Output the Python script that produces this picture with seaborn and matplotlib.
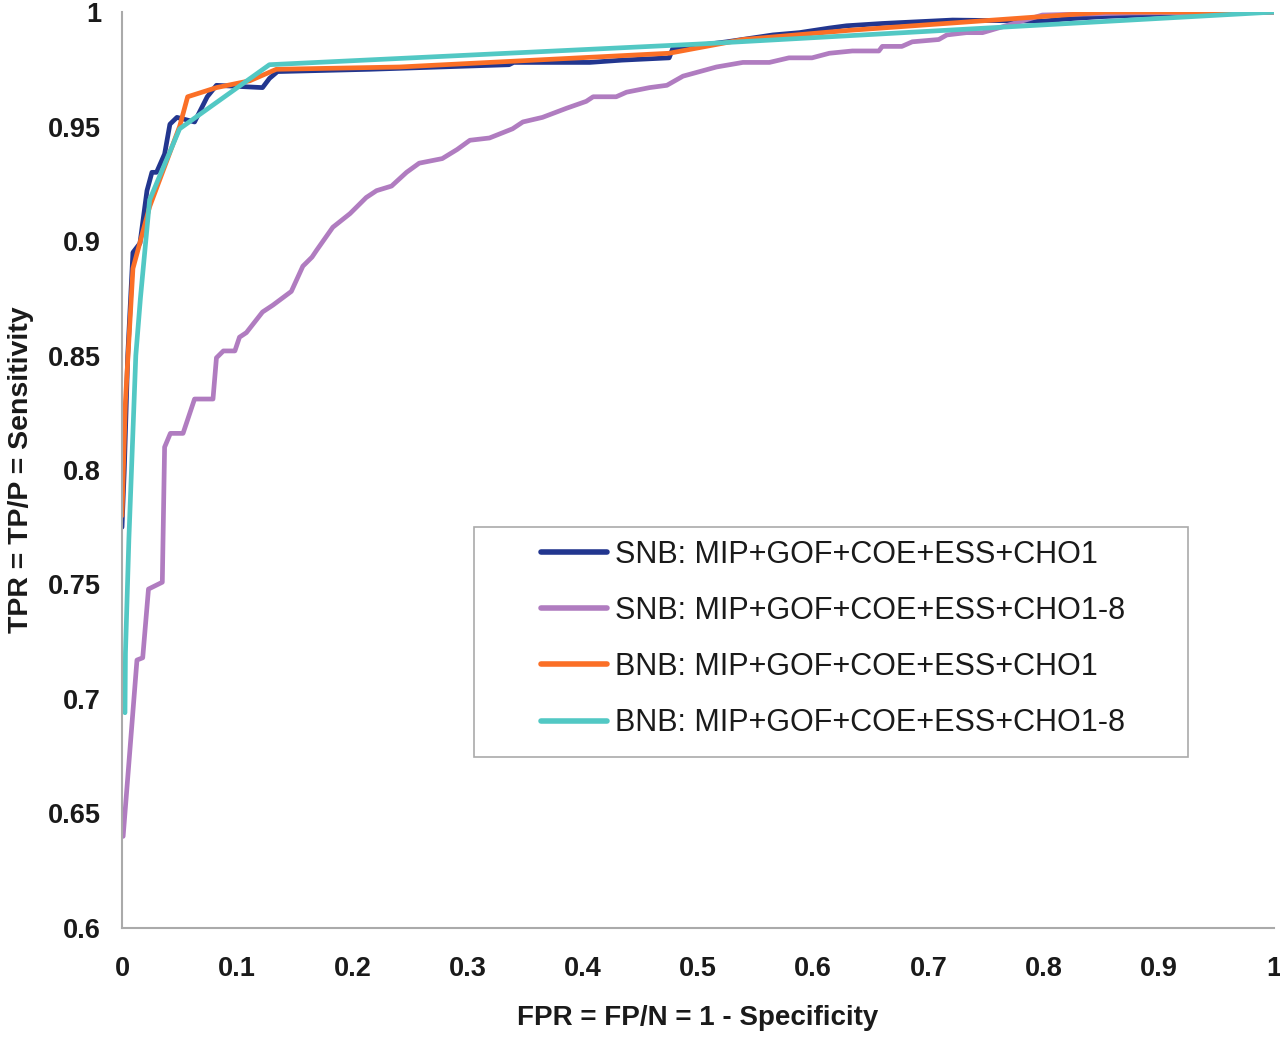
import numpy as np
import pandas as pd
import matplotlib
matplotlib.use("Agg")
import matplotlib.pyplot as plt
from matplotlib.patches import Rectangle
import seaborn as sns

# ROC curve points
snb_cho1_fpr = [0, 0.002, 0.005, 0.0095, 0.0156, 0.0217, 0.026, 0.030, 0.037, 0.0416, 0.0477,
                0.063, 0.074, 0.082, 0.122, 0.128, 0.135, 0.215, 0.336, 0.340, 0.406, 0.434,
                0.475, 0.478, 0.525, 0.565, 0.588, 0.614, 0.629, 0.66, 0.721, 0.799, 0.82,
                0.851, 0.886, 0.918, 1.0]
snb_cho1_tpr = [0.775, 0.80, 0.85, 0.895, 0.899, 0.922, 0.930, 0.930, 0.938, 0.951, 0.954,
                0.952, 0.963, 0.968, 0.967, 0.971, 0.974, 0.975, 0.977, 0.978, 0.978, 0.979,
                0.980, 0.984, 0.987, 0.990, 0.991, 0.993, 0.994, 0.995, 0.9965, 0.996, 0.997,
                0.998, 0.9987, 0.9995, 1.0]

snb_cho18_fpr = [0.001, 0.013, 0.018, 0.023, 0.035, 0.037, 0.042, 0.053, 0.063, 0.079, 0.082,
                 0.088, 0.098, 0.102, 0.108, 0.122, 0.131, 0.147, 0.157, 0.165, 0.169, 0.183,
                 0.198, 0.212, 0.221, 0.234, 0.247, 0.258, 0.278, 0.291, 0.302, 0.319, 0.339,
                 0.348, 0.365, 0.386, 0.403, 0.409, 0.429, 0.438, 0.458, 0.473, 0.487, 0.516,
                 0.539, 0.562, 0.579, 0.599, 0.614, 0.634, 0.657, 0.660, 0.677, 0.686, 0.709,
                 0.716, 0.733, 0.747, 0.799, 0.877, 1.0]
snb_cho18_tpr = [0.640, 0.717, 0.718, 0.748, 0.751, 0.810, 0.816, 0.816, 0.831, 0.831, 0.849,
                 0.852, 0.852, 0.858, 0.860, 0.869, 0.872, 0.878, 0.889, 0.893, 0.896, 0.906,
                 0.912, 0.919, 0.922, 0.924, 0.930, 0.934, 0.936, 0.940, 0.944, 0.945, 0.949,
                 0.952, 0.954, 0.958, 0.961, 0.963, 0.963, 0.965, 0.967, 0.968, 0.972, 0.976,
                 0.978, 0.978, 0.980, 0.980, 0.982, 0.983, 0.983, 0.985, 0.985, 0.987, 0.988,
                 0.990, 0.991, 0.991, 0.9987, 0.9996, 1.0]

bnb_cho1_fpr = [0, 0.003, 0.0095, 0.024, 0.050, 0.057, 0.082, 0.111, 0.134, 0.241, 0.475,
                0.539, 0.631, 0.854, 1.0]
bnb_cho1_tpr = [0.78, 0.83, 0.888, 0.915, 0.950, 0.963, 0.967, 0.970, 0.975, 0.976, 0.982,
                0.988, 0.992, 1.0, 1.0]

bnb_cho18_fpr = [0.0026, 0.003, 0.006, 0.012, 0.016, 0.024, 0.050, 0.128, 0.5, 1.0]
bnb_cho18_tpr = [0.694, 0.72, 0.77, 0.85, 0.875, 0.918, 0.949, 0.977, 0.986, 1.0]

labels = ["SNB: MIP+GOF+COE+ESS+CHO1", "SNB: MIP+GOF+COE+ESS+CHO1-8",
          "BNB: MIP+GOF+COE+ESS+CHO1", "BNB: MIP+GOF+COE+ESS+CHO1-8"]
colors = ["#22368f", "#b07cc0", "#fb6f26", "#52c8c4"]

frames = []
for lab, fx, ty in zip(labels,
                       [snb_cho1_fpr, snb_cho18_fpr, bnb_cho1_fpr, bnb_cho18_fpr],
                       [snb_cho1_tpr, snb_cho18_tpr, bnb_cho1_tpr, bnb_cho18_tpr]):
    frames.append(pd.DataFrame({"fpr": fx, "tpr": ty, "model": lab}))
data = pd.concat(frames, ignore_index=True)

sns.set_theme(style="white")
plt.rcParams["font.family"] = ["Liberation Sans", "DejaVu Sans"]

fig = plt.figure(figsize=(12.8, 10.38), dpi=100)
ax = fig.add_axes([0.0953, 0.106, 0.9, 0.8824])

sns.lineplot(data=data, x="fpr", y="tpr", hue="model", hue_order=labels,
             palette=colors, sort=False, estimator=None, linewidth=3.4, ax=ax)

ax.set_xlim(0, 1)
ax.set_ylim(0.6, 1)
ax.set_xticks(np.arange(0, 1.01, 0.1))
ax.set_yticks(np.arange(0.6, 1.001, 0.05))
ax.set_xticklabels(["0", "0.1", "0.2", "0.3", "0.4", "0.5", "0.6", "0.7", "0.8", "0.9", "1"])
ax.set_yticklabels(["0.6", "0.65", "0.7", "0.75", "0.8", "0.85", "0.9", "0.95", "1"])
ax.tick_params(axis="both", direction="out", length=7, width=1.2, color="#999999",
               labelsize=19.5)
ax.tick_params(axis="x", pad=13)
ax.tick_params(axis="y", pad=8)
for t in ax.get_xticklabels() + ax.get_yticklabels():
    t.set_fontweight("bold")
    t.set_color("#1a1a1a")

for side in ["top", "right"]:
    ax.spines[side].set_visible(False)
for side in ["left", "bottom"]:
    ax.spines[side].set_color("#aaaaaa")
    ax.spines[side].set_linewidth(1.5)

ax.set_xlabel("FPR = FP/N = 1 - Specificity", fontsize=20, fontweight="bold",
              color="#1a1a1a", labelpad=17)
ax.set_ylabel("TPR = TP/P = Sensitivity", fontsize=20.5, fontweight="bold",
              color="#1a1a1a", labelpad=10)

# legend frame drawn separately so the padding can match the reference
ax.add_patch(Rectangle((0.306, 0.1867), 0.6193, 0.2511, transform=ax.transAxes,
                       facecolor="white", edgecolor="#aaaaaa", linewidth=1.2, zorder=5))
leg = ax.legend(loc="center left", bbox_to_anchor=(0.3634, 0.3155), fontsize=22,
                frameon=False, handlelength=2.16, handletextpad=0.26,
                labelspacing=0.86, borderpad=0, borderaxespad=0)
leg.set_zorder(6)
for line in leg.get_lines():
    line.set_linewidth(4)
for t in leg.get_texts():
    t.set_color("#1a1a1a")

fig.savefig("out.png", dpi=100)
